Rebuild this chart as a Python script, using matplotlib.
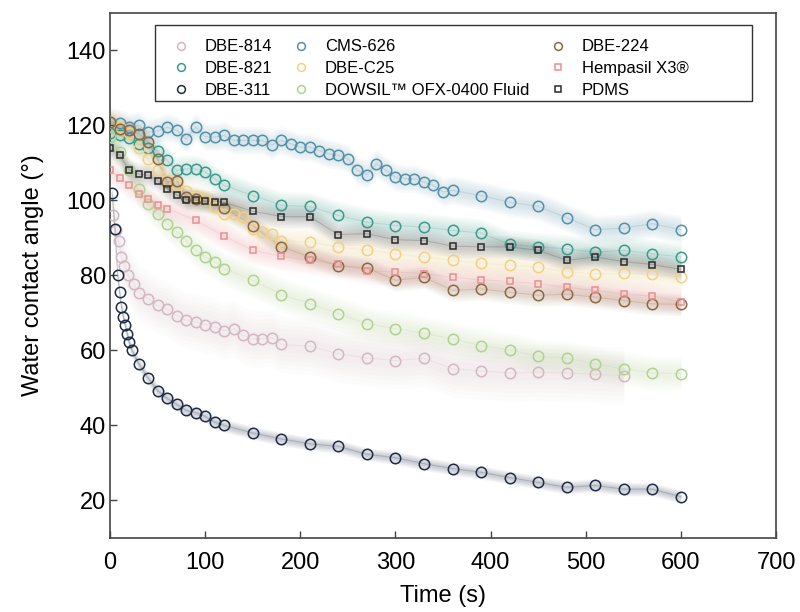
import numpy as np
import matplotlib
matplotlib.use("Agg")
import matplotlib.pyplot as plt
from matplotlib.patches import Rectangle

plt.rcParams['font.family'] = ['Liberation Sans', 'DejaVu Sans']

# Contact angle vs time for each coating
labels = ["DBE-814", "DBE-821", "DBE-311", "CMS-626", "DBE-C25",
          "DOWSIL\u2122 OFX-0400 Fluid", "DBE-224", "Hempasil X3\u00ae", "PDMS"]

t_814 = [3, 6, 9, 12, 15, 19, 25, 31, 40, 50, 60, 70, 80, 90, 100, 110, 120, 130, 140,
         150, 160, 170, 180, 210, 240, 270, 300, 330, 360, 390, 420, 450, 480, 510, 540]
v_814 = [96, 92, 89.3, 84.9, 82.5, 80, 77.8, 75.3, 73.8, 72, 71.1, 69.3, 68, 67.6, 66.9,
         66.2, 65.3, 65.8, 64, 63.1, 63.1, 63.4, 61.6, 61.1, 59.1, 58, 57.3, 57.9, 55.1,
         54.5, 54, 54.2, 54, 53.6, 53.3]

t_821 = [0, 10, 20, 30, 40, 50, 60, 70, 80, 90, 100, 110, 120, 150, 180, 210, 240, 270,
         300, 330, 360, 390, 420, 450, 480, 510, 540, 570, 600]
v_821 = [118, 117.5, 116.5, 115, 114, 113.3, 110.7, 108, 108.4, 108.4, 107.6, 105.8, 104,
         101.3, 98.7, 98.4, 96, 94.2, 93.3, 92.9, 92, 91.3, 88.3, 87.6, 87.1, 86.2, 86.7,
         85.8, 84.9]

t_311 = [2, 5, 8, 10, 12, 14, 16, 18, 20, 23, 30, 40, 50, 60, 70, 80, 90, 100, 110, 120,
         150, 180, 210, 240, 270, 300, 330, 360, 390, 420, 450, 480, 510, 540, 570, 600]
v_311 = [102, 92.5, 80, 75.5, 71.5, 69, 66.7, 64.5, 62.2, 60, 56.5, 52.6, 49.3, 47.2,
         45.6, 44, 43.4, 42.4, 40.9, 40, 38, 36.4, 35.1, 34.4, 32.3, 31.4, 29.8, 28.5,
         27.5, 26.1, 24.8, 23.5, 24, 23, 23, 21]

t_626 = [0, 10, 20, 30, 40, 50, 60, 70, 80, 90, 100, 110, 120, 130, 140, 150, 160, 170,
         180, 190, 200, 210, 220, 230, 240, 250, 260, 270, 280, 290, 300, 310, 320, 330,
         340, 350, 360, 390, 420, 450, 480, 510, 540, 570, 600]
v_626 = [121, 120.5, 119.5, 120, 118.2, 118.5, 119.5, 118.7, 116.4, 119.5, 117, 116.9,
         117.3, 116, 116, 116, 116, 114.7, 116, 115.1, 114.2, 114.2, 113.3, 112.4, 112,
         111.1, 108, 106.9, 109.8, 108, 106.2, 105.8, 105.8, 104.9, 104, 102.2, 102.7,
         101.3, 99.5, 98.4, 95.4, 92.2, 92.6, 93.8, 92.2]

t_c25 = [0, 10, 20, 30, 40, 50, 60, 70, 80, 90, 100, 110, 120, 130, 140, 150, 160, 170,
         180, 210, 240, 270, 300, 330, 360, 390, 420, 450, 480, 510, 540, 570, 600]
v_c25 = [121, 119.5, 118, 114, 111, 108, 105.5, 104, 102.5, 101.3, 100.4, 98.2, 96.4,
         96.4, 95.6, 92.4, 91.5, 91.1, 89.3, 88.9, 87.6, 86.7, 85.8, 84.9, 84, 83.3, 82.7,
         82.2, 80.9, 80.4, 80.6, 80.3, 79.6]

t_ofx = [0, 10, 20, 30, 40, 50, 60, 70, 80, 90, 100, 110, 120, 150, 180, 210, 240, 270,
         300, 330, 360, 390, 420, 450, 480, 510, 540, 570, 600]
v_ofx = [117, 113, 108, 103, 99.1, 96.4, 93.8, 91.6, 89.3, 86.7, 84.9, 83.6, 81.8, 78.7,
         74.9, 72.5, 69.8, 67.1, 65.8, 64.6, 63.1, 61.3, 60.2, 58.4, 58, 56.4, 55.1, 54,
         53.8]

t_224 = [0, 10, 20, 30, 40, 50, 60, 70, 80, 90, 120, 150, 180, 210, 240, 270, 300, 330,
         360, 390, 420, 450, 480, 510, 540, 570, 600]
v_224 = [121, 119.1, 118.7, 117.8, 115.6, 111, 105, 105.3, 101, 100.5, 98, 93.3, 87.6,
         85, 82.5, 82, 78.7, 79.5, 76, 76.4, 75.5, 74.7, 75, 74.2, 73.3, 72.4, 72.3]

t_x3 = [0, 10, 20, 30, 40, 50, 60, 90, 120, 150, 180, 210, 240, 270, 300, 330, 360, 390,
        420, 450, 480, 510, 540, 570, 600]
v_x3 = [108, 106, 104, 101.8, 100.4, 98.7, 97.8, 94.7, 90.5, 86.7, 85.1, 84, 83, 81.3,
        80.9, 80.5, 79.5, 78.8, 78.4, 77.8, 76.8, 76, 75, 74.5, 73]

t_pdms = [0, 10, 20, 30, 40, 50, 60, 70, 80, 90, 100, 110, 120, 150, 180, 210, 240, 270,
          300, 330, 360, 390, 420, 450, 480, 510, 540, 570, 600]
v_pdms = [114, 112, 108.2, 107, 106.7, 105.3, 103.1, 101.5, 100.2, 100, 99.8, 99.6, 99.5,
          97.1, 95.7, 95.6, 90.9, 91.1, 89.5, 89.3, 87.8, 87.6, 87.6, 86.7, 84, 84.9, 83.7,
          82.9, 81.6]

# rough spread (std dev, degrees) of each set of repeats
spread = [5, 2.5, 1.2, 2.5, 3, 3, 2, 2.5, 2]

colors = ["#d2b8c2", "#3c9a8a", "#1d2b45", "#5590a8", "#f2d185",
          "#b0d290", "#8a6843", "#e89090", "#2a2a2a"]
markers = ["o", "o", "o", "o", "o", "o", "o", "s", "s"]

times = [t_814, t_821, t_311, t_626, t_c25, t_ofx, t_224, t_x3, t_pdms]
values = [v_814, v_821, v_311, v_626, v_c25, v_ofx, v_224, v_x3, v_pdms]

fig, ax = plt.subplots(figsize=(8, 6.12), dpi=100)
fig.subplots_adjust(left=0.1375, right=0.97, bottom=0.121, top=0.979)

for t, v, s, c, m, lab in zip(times, values, spread, colors, markers, labels):
    t = np.array(t, float)
    v = np.array(v, float)
    # soft shaded band, several layers so the edge fades out
    for k in np.linspace(0.4, 1.5, 6):
        ax.fill_between(t, v - s * k, v + s * k, color=c, alpha=0.04, lw=0, zorder=1)
    ax.plot(t, v, color=c, alpha=0.2, lw=0.8, zorder=2)
    if m == "s":
        ax.plot(t, v, ls="none", marker=m, ms=5, mfc="none", mec=c, mew=1.1,
                label=lab, zorder=3)
    else:
        ax.plot(t, v, ls="none", marker=m, ms=7.5, mfc="none", mec=c, mew=1.1,
                label=lab, zorder=3)

ax.set_xlim(0, 700)
ax.set_ylim(10, 150)
ax.set_xticks(range(0, 701, 100))
ax.set_yticks(range(20, 141, 20))
ax.tick_params(direction="in", labelsize=17, length=5, width=1, color="#444444")
ax.tick_params(axis="x", pad=10)
ax.tick_params(axis="y", pad=3)
for sp in ax.spines.values():
    sp.set_color("#444444")
    sp.set_linewidth(1.2)

ax.set_xlabel("Time (s)", fontsize=17, labelpad=8)
ax.set_ylabel("Water contact angle (\u00b0)", fontsize=17, labelpad=16)

# legend box drawn by hand so it can be wider than the entries
ax.add_patch(Rectangle((0.068, 0.833), 0.896, 0.143, transform=ax.transAxes,
                       facecolor="white", edgecolor="#333333", lw=1.0, zorder=4))
leg = ax.legend(loc="upper left", bbox_to_anchor=(0.072, 0.978), ncol=3, fontsize=12,
                frameon=False, handlelength=1.0, handletextpad=0.9, columnspacing=1.25,
                labelspacing=0.4, markerscale=0.75, borderpad=0.4)
leg.set_zorder(5)

plt.savefig("out.png", dpi=100)
